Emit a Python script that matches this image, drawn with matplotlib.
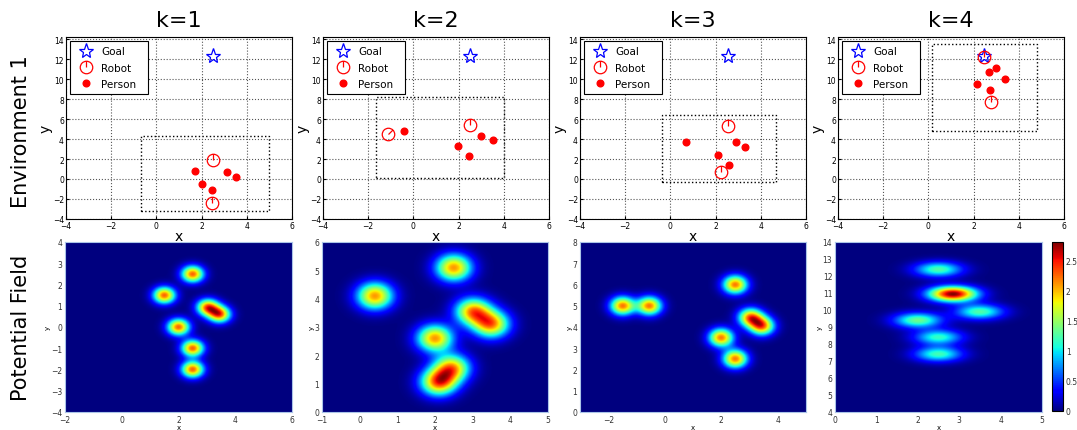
import numpy as np
import matplotlib
matplotlib.use("Agg")
import matplotlib.pyplot as plt
from matplotlib.path import Path
from matplotlib.lines import Line2D
from matplotlib.patches import Rectangle

# ---- データ (上段: 環境) ----
titles = ["k=1", "k=2", "k=3", "k=4"]

goal_x = [2.5, 2.5, 2.55, 2.47]
goal_y = [12.3, 12.3, 12.3, 12.3]

robot_x = [[2.5, 2.46], [-1.14, 2.49], [2.56, 2.24], [2.47, 2.78]]
robot_y = [[1.86, -2.4], [4.46, 5.43], [5.26, 0.66], [12.2, 7.7]]
robot_heading = [[0, 0], [45, 0], [0, 0], [0, 0]]  # deg, clockwise from up

person_x = [[1.72, 2.03, 2.47, 3.12, 3.5],
            [-0.43, 1.96, 2.48, 2.98, 3.5],
            [0.71, 2.12, 2.58, 2.92, 3.29],
            [2.68, 2.97, 2.15, 3.37, 2.73]]
person_y = [[0.83, -0.5, -1.14, 0.7, 0.2],
            [4.8, 3.33, 2.3, 4.33, 3.86],
            [3.7, 2.4, 1.43, 3.66, 3.2],
            [10.7, 11.06, 9.46, 9.96, 8.86]]

# 点線の枠 (x0, y0, x1, y1)
box_x0 = [-0.67, -1.66, -0.36, 0.16]
box_y0 = [-3.24, 0.1, -0.27, 4.83]
box_x1 = [4.98, 4.0, 4.68, 4.82]
box_y1 = [4.3, 8.16, 6.36, 13.53]

# ---- データ (下段: ポテンシャル場) ----
field_xlim = [(-2, 6), (-1, 5), (-3, 5), (0, 5)]
field_ylim = [(-4, 4), (0, 6), (0, 8), (4, 14)]
field_xticks = [[-2, 0, 2, 4, 6], [-1, 0, 1, 2, 3, 4, 5], [-2, 0, 2, 4], [0, 1, 2, 3, 4, 5]]
field_yticks = [list(range(-4, 5)), list(range(0, 7)), list(range(0, 9)), list(range(4, 15))]
field_sigma = [(0.27, 0.27), (0.33, 0.33), (0.3, 0.3), (0.4, 0.31)]

blob_x = [[1.5, 2.5, 2.0, 2.5, 2.5, 3.04, 3.45],
          [0.4, 2.5, 2.0, 3.02, 3.5, 2.1, 2.45],
          [-1.5, -0.55, 2.5, 2.0, 2.5, 3.05, 3.45],
          [2.5, 2.85, 3.5, 2.0, 2.5, 2.5]]
blob_y = [[1.5, 2.5, 0.0, -1.0, -2.0, 0.93, 0.6],
          [4.1, 5.1, 2.6, 3.55, 3.1, 1.05, 1.55],
          [5.0, 5.0, 6.0, 3.5, 2.5, 4.45, 4.05],
          [12.4, 10.95, 9.9, 9.4, 8.4, 7.4]]
blob_a = [[1, 1, 1, 1, 1, 1, 1],
          [1, 1, 1, 1, 1, 1.08, 0.95],
          [1, 1, 1, 1, 1, 1, 1],
          [1.25, 2.8, 1.25, 1.35, 1.15, 1.2]]

cbar_ticks = [0, 0.5, 1, 1.5, 2, 2.5]


def robot_marker(h):
    # 円 + 向きを表す線
    t = np.deg2rad(h)
    line = Path([(0, 0), (np.sin(t), np.cos(t))], [Path.MOVETO, Path.LINETO])
    return Path.make_compound_path(Path.unit_circle(), line)


fig = plt.figure(figsize=(10.77, 4.31), dpi=100)
W, H = 1077.0, 431.0

top_left = [66, 323, 580, 838]
bot_left = [65, 322, 580, 835]
bot_width = [227, 226, 226, 207]

for i in range(4):
    # ---- 上段 ----
    ax = fig.add_axes([top_left[i] / W, 1 - 220 / H, 226 / W, 182 / H])
    ax.plot(goal_x[i], goal_y[i], ls="none", marker="*", ms=11, mfc="none",
            mec="blue", mew=0.9)
    for rx, ry, rh in zip(robot_x[i], robot_y[i], robot_heading[i]):
        ax.plot(rx, ry, ls="none", marker=robot_marker(rh), ms=9, mfc="none",
                mec="red", mew=0.9)
    ax.plot(person_x[i], person_y[i], ls="none", marker="o", ms=4.8, color="red")
    ax.add_patch(Rectangle((box_x0[i], box_y0[i]), box_x1[i] - box_x0[i],
                           box_y1[i] - box_y0[i], fill=False, ls=":", lw=1.0,
                           ec="black"))
    ax.set_xlim(-4, 6)
    ax.set_ylim(-4, 14.2)
    ax.set_xticks(range(-4, 7, 2))
    ax.set_yticks(range(-4, 15, 2))
    ax.grid(True, ls=":", lw=0.8, color="#555555")
    ax.tick_params(labelsize=5.5, direction="in", length=2, pad=1.5)
    ax.set_xlabel("x", fontsize=10, labelpad=-1)
    ax.set_ylabel("y", fontsize=10, labelpad=0)

    handles = [Line2D([], [], ls="none", marker="*", ms=11, mfc="none", mec="blue", mew=0.9),
               Line2D([], [], ls="none", marker=robot_marker(0), ms=9, mfc="none", mec="red", mew=0.9),
               Line2D([], [], ls="none", marker="o", ms=4.8, color="red")]
    leg = ax.legend(handles, ["Goal", "Robot", "Person  "], loc="upper left",
                    fontsize=7.5, fancybox=False, framealpha=1, edgecolor="black",
                    handlelength=2.0, handletextpad=0.5, borderpad=0.5,
                    labelspacing=0.6, borderaxespad=0.4)
    leg.get_frame().set_linewidth(0.8)

    fig.text((top_left[i] + 113) / W, 1 - 21 / H, titles[i], fontsize=16,
             ha="center", va="center")

    # ---- 下段 ----
    bx = fig.add_axes([bot_left[i] / W, 18 / H, bot_width[i] / W, 170 / H])
    x0, x1 = field_xlim[i]
    y0, y1 = field_ylim[i]
    X, Y = np.meshgrid(np.linspace(x0, x1, 300), np.linspace(y0, y1, 300))
    sx, sy = field_sigma[i]
    Z = np.zeros_like(X)
    for cx, cy, a in zip(blob_x[i], blob_y[i], blob_a[i]):
        Z += a * np.exp(-((X - cx) ** 2 / (2 * sx ** 2) + (Y - cy) ** 2 / (2 * sy ** 2)))
    if i == 3:
        im = bx.imshow(Z, extent=(x0, x1, y0, y1), origin="lower", aspect="auto",
                       cmap="jet", vmin=0, vmax=2.8, interpolation="bilinear")
    else:
        im = bx.imshow(Z, extent=(x0, x1, y0, y1), origin="lower", aspect="auto",
                       cmap="jet", vmin=0, interpolation="bilinear")
    bx.set_xticks(field_xticks[i])
    bx.set_yticks(field_yticks[i])
    bx.tick_params(labelsize=5.5, direction="in", length=0, pad=2, labelcolor="#333333")
    bx.set_xlabel("x", fontsize=5, labelpad=0)
    bx.set_ylabel("y", fontsize=5, labelpad=0)
    for s in bx.spines.values():
        s.set_color("#aac4e8")

    if i == 3:
        cax = fig.add_axes([1052 / W, 19 / H, 11 / W, 169 / H])
        cb = fig.colorbar(im, cax=cax, ticks=cbar_ticks)
        cb.ax.tick_params(labelsize=5.5, length=0, pad=2, labelcolor="#333333")
        cb.ax.set_yticklabels(["0", "0.5", "1", "1.5", "2", "2.5"])

# 行ラベル
fig.text(21 / W, 1 - 132 / H, "Environment 1", rotation=90, fontsize=15,
         ha="center", va="center")
fig.text(21 / W, 1 - 328 / H, "Potential Field", rotation=90, fontsize=15,
         ha="center", va="center")

fig.savefig("out.png", dpi=100)
